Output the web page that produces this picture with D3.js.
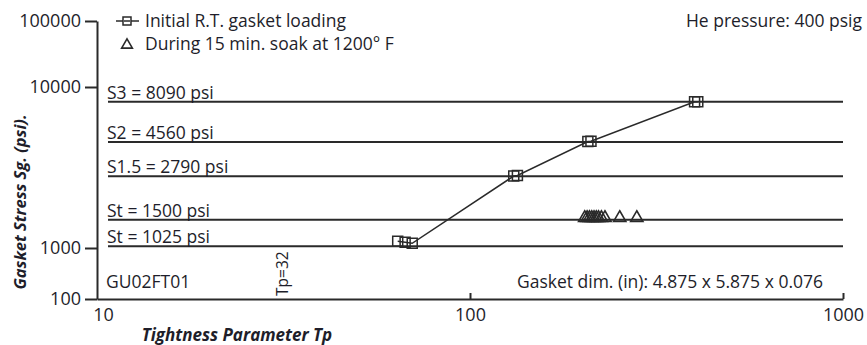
<!DOCTYPE html>
<html><head><meta charset="utf-8">
<script src="https://cdn.jsdelivr.net/npm/d3@7"></script>
<style>
html,body{margin:0;padding:0;background:#fff;}
svg text{font-family:"Open Sans",sans-serif;fill:#1e1e2a;}
</style></head>
<body><svg id="c" width="867" height="345"></svg>
<script>
// ---- data ----
const yTickValues = [100, 1000, 10000, 100000];
const yTickLabels = ["100", "1000", "10000", "100000"];
const xTickValues = [10, 100, 1000];
const xTickLabels = ["10", "100", "1000"];
const refValues = [8090, 4560, 2790, 1500, 1025];
const refLabels = ["S3 = 8090 psi", "S2 = 4560 psi", "S1.5 = 2790 psi", "St = 1500 psi", "St = 1025 psi"];
const initTp = [64, 67, 70, 131, 134, 207, 211, 400, 408];
const initSg = [1100, 1085, 1070, 2800, 2820, 4580, 4600, 8100, 8110];
const soakTp = [203, 206, 209, 212, 215, 218, 221, 225, 230, 252, 280];
const soakSg = [1540, 1540, 1540, 1540, 1540, 1540, 1540, 1540, 1540, 1540, 1540];
const legendLabels = ["Initial R.T. gasket loading", "During 15 min. soak at 1200\u00b0 F"];

const svg = d3.select("#c");
const x = d3.scaleLog().domain([10, 1000]).range([97, 843]);
const y = d3.scaleLog().domain([100, 1000, 10000, 100000]).range([299, 248, 87, 21]);
const ink = "#2a2a2a";

// reference lines
const ref = svg.append("g");
refValues.forEach((v, i) => {
  ref.append("line").attr("x1", 108).attr("x2", 843).attr("y1", y(v)).attr("y2", y(v))
    .attr("stroke", ink).attr("stroke-width", 2);
  ref.append("text").attr("x", 107).attr("y", y(v) - 3).attr("font-size", 17.5).text(refLabels[i]);
});

// y axis
const yAxis = d3.axisLeft(y).tickValues(yTickValues)
  .tickFormat((d, i) => yTickLabels[i]).tickSize(12).tickPadding(4).tickSizeOuter(0);
const gy = svg.append("g").attr("transform", "translate(97,0)").call(yAxis);
gy.select(".domain").attr("stroke", ink).attr("stroke-width", 2);
gy.selectAll(".tick line").attr("stroke", ink).attr("stroke-width", 2);
gy.selectAll(".tick text").attr("font-size", 18).attr("fill", "#1e1e2a");

// x axis
const xAxis = d3.axisBottom(x).tickValues(xTickValues)
  .tickFormat((d, i) => xTickLabels[i]).tickSizeInner(-6).tickSizeOuter(0).tickPadding(9);
const gx = svg.append("g").attr("transform", "translate(0,299)").call(xAxis);
gx.select(".domain").attr("stroke", ink).attr("stroke-width", 2);
gx.selectAll(".tick line").attr("stroke", ink).attr("stroke-width", 2);
gx.selectAll(".tick text").attr("font-size", 18).attr("fill", "#1e1e2a");
gx.selectAll(".tick").filter(d => d === 10).select("line").remove();
gx.selectAll(".tick").filter(d => d === 10).select("text").attr("dx", 6);

// initial loading series
const line = d3.line().x(d => x(d[0])).y(d => y(d[1]));
const initPts = initTp.map((t, i) => [t, initSg[i]]);
svg.append("path").datum(initPts).attr("d", line).attr("fill", "none")
  .attr("stroke", ink).attr("stroke-width", 1.5);
const sq = d3.symbol().type(d3.symbolSquare).size(100);
svg.append("g").selectAll("path").data(initPts).join("path")
  .attr("d", sq).attr("transform", d => `translate(${x(d[0])},${y(d[1])})`)
  .attr("fill", "none").attr("stroke", ink).attr("stroke-width", 1.5);

// soak series
const tri = d3.symbol().type(d3.symbolTriangle).size(65);
const soakPts = soakTp.map((t, i) => [t, soakSg[i]]);
svg.append("g").selectAll("path").data(soakPts).join("path")
  .attr("d", tri).attr("transform", d => `translate(${x(d[0])},${y(d[1])})`)
  .attr("fill", "none").attr("stroke", ink).attr("stroke-width", 1.6);

// legend
const lg = svg.append("g");
lg.append("line").attr("x1", 116).attr("x2", 139).attr("y1", 21).attr("y2", 21).attr("stroke", ink).attr("stroke-width", 1.5);
lg.append("path").attr("d", d3.symbol().type(d3.symbolSquare).size(64)).attr("transform", "translate(127,21)")
  .attr("fill", "#fff").attr("stroke", ink).attr("stroke-width", 1.5);
lg.append("line").attr("x1", 124).attr("x2", 130).attr("y1", 21).attr("y2", 21).attr("stroke", ink).attr("stroke-width", 1.5);
lg.append("path").attr("d", d3.symbol().type(d3.symbolTriangle).size(50)).attr("transform", "translate(127,45)")
  .attr("fill", "none").attr("stroke", ink).attr("stroke-width", 1.6);
lg.append("text").attr("x", 145).attr("y", 27).attr("font-size", 17.5).text(legendLabels[0]);
lg.append("text").attr("x", 145).attr("y", 50).attr("font-size", 17.5).text(legendLabels[1]);

// annotations
svg.append("text").attr("x", 862).attr("y", 27).attr("text-anchor", "end").attr("font-size", 17.5).text("He pressure: 400 psig");
svg.append("text").attr("x", 106).attr("y", 288).attr("font-size", 17.5).text("GU02FT01");
svg.append("text").attr("x", 823).attr("y", 288).attr("text-anchor", "end").attr("font-size", 17.5).text("Gasket dim. (in): 4.875 x 5.875 x 0.076");
svg.append("text").attr("transform", `translate(${x(32) + 3},296) rotate(-90)`).attr("font-size", 15.5).text("Tp=32");

// axis titles
svg.append("text").attr("transform", "translate(26,202) rotate(-90)").attr("text-anchor", "middle")
  .attr("font-size", 16.5).style("font-weight", "bold").style("font-style", "italic").text("Gasket Stress Sg. (psi).");
svg.append("text").attr("x", 237).attr("y", 341).attr("text-anchor", "middle")
  .attr("font-size", 17).style("font-weight", "bold").style("font-style", "italic").text("Tightness Parameter Tp");
</script></body></html>
